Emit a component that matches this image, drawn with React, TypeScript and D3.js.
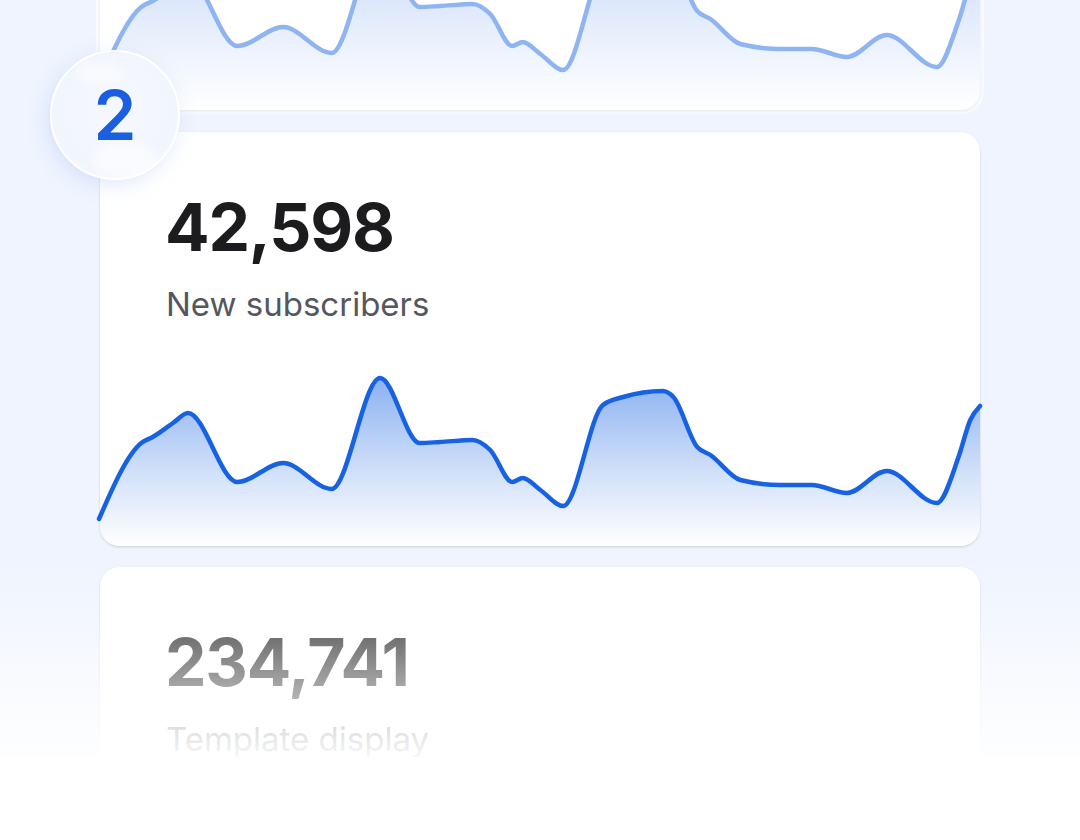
import React from "react";
import * as d3 from "d3";

// ---- data ----
const days = [0, 4.8, 6.1, 8.4, 10.1, 15.7, 20.9, 26.4, 31.9, 36.4, 38.7, 42.4, 44.4, 46.9, 48.1, 50.1, 52.7, 57.2, 59.5, 64.0, 65.2, 67.9, 69.4, 72.8, 77.3, 80.9, 84.9, 89.4, 95.1, 97.6, 98.9, 100];
const subscribers = [27, 103, 109, 123, 133, 64, 83, 57, 168, 103, 104, 106, 96, 64, 68, 56, 40, 141, 149, 155, 149, 99, 91, 66, 61, 61, 53, 75, 43, 90, 126, 140];

const cardValues = ["42,598", "42,598", "234,741"];
const cardLabels = ["New subscribers", "New subscribers", "Template display"];
const badgeLabel = "2";

const W = 1080;
const H = 840;
const cardX = 100;
const cardW = 880;
const cardH = 414;
const cardTops = [-304, 132, 567];
const BLUE = "#1662e3";

const points = days.map((d, i) => ({ d, v: subscribers[i] }));

function Card({ top, idx, showChart, showText, faded }: { top: number; idx: number; showChart: boolean; showText: boolean; faded: boolean }) {
  const x = d3.scaleLinear().domain([0, 100]).range([cardX - 1, cardX + cardW]);
  const y = d3.scaleLinear().domain([0, 200]).range([cardH, cardH - 200]);
  const line = d3
    .line<{ d: number; v: number }>()
    .x((p) => x(p.d))
    .y((p) => y(p.v))
    .curve(d3.curveMonotoneX);
  const area = d3
    .area<{ d: number; v: number }>()
    .x((p) => x(p.d))
    .y0(cardH)
    .y1((p) => y(p.v))
    .curve(d3.curveMonotoneX);
  const clipId = `cardclip${idx}`;
  return (
    <g transform={`translate(0,${top})`}>
      <defs>
        <clipPath id={clipId}>
          <rect x={cardX} y={0} width={cardW} height={cardH} rx={20} ry={20} />
        </clipPath>
      </defs>
      <rect x={cardX} y={0} width={cardW} height={cardH} rx={20} ry={20} fill="#ffffff" filter="url(#cardShadow)" />
      {showChart && (
        <>
          <g clipPath={`url(#${clipId})`}>
            <path d={area(points) || ""} fill="url(#areaGrad)" />
          </g>
          <path d={line(points) || ""} fill="none" stroke={BLUE} strokeWidth={4.5} strokeLinecap="round" strokeLinejoin="round" />
        </>
      )}
      {showText && (
        <>
          <text x={165} y={119} fontFamily="Inter, 'Noto Sans', sans-serif" fontWeight={700} fontSize={66} letterSpacing={-1.2} fill="#1c1c1e">
            {cardValues[idx]}
          </text>
          <text x={166} y={184} fontFamily="Inter, 'Noto Sans', sans-serif" fontWeight={400} fontSize={33} letterSpacing={0} fill="#54575d">
            {cardLabels[idx]}
          </text>
        </>
      )}
      {faded && (
        <rect x={cardX - 4} y={-4} width={cardW + 8} height={cardH + 8} rx={22} fill="#ffffff" opacity={0.52} />
      )}
    </g>
  );
}

export default function App() {
  return (
    <svg width={W} height={H} style={{ position: "absolute", left: 0, top: 0 }} xmlns="http://www.w3.org/2000/svg">
      <defs>
        <linearGradient id="areaGrad" x1="0" y1="246" x2="0" y2="414" gradientUnits="userSpaceOnUse">
          <stop offset="0" stopColor={BLUE} stopOpacity={0.5} />
          <stop offset="0.55" stopColor={BLUE} stopOpacity={0.2} />
          <stop offset="1" stopColor={BLUE} stopOpacity={0.0} />
        </linearGradient>
        <filter id="cardShadow" x="-5%" y="-5%" width="110%" height="110%">
          <feDropShadow dx="0" dy="1.2" stdDeviation="0.9" floodColor="#1a2340" floodOpacity="0.16" />
        </filter>
        <filter id="badgeGlow" x="-60%" y="-60%" width="220%" height="220%">
          <feGaussianBlur stdDeviation="12" />
        </filter>
        <filter id="softBlur" x="-50%" y="-50%" width="200%" height="200%">
          <feGaussianBlur stdDeviation="4" />
        </filter>
        <radialGradient id="badgeFill" cx="0.5" cy="0.45" r="0.6">
          <stop offset="0" stopColor="#f6f8fe" />
          <stop offset="0.8" stopColor="#f1f5fd" />
          <stop offset="1" stopColor="#f7f9ff" />
        </radialGradient>
        <clipPath id="badgeClip">
          <circle cx={115} cy={115} r={63} />
        </clipPath>
        <linearGradient id="fadeGrad" x1="0" y1="560" x2="0" y2="757" gradientUnits="userSpaceOnUse">
          <stop offset="0" stopColor="#ffffff" stopOpacity={0} />
          <stop offset="1" stopColor="#ffffff" stopOpacity={0.95} />
        </linearGradient>
      </defs>
      <rect x={0} y={0} width={W} height={H} fill="#eff4fe" />
      <Card top={cardTops[0]} idx={0} showChart={true} showText={false} faded={true} />
      <Card top={cardTops[1]} idx={1} showChart={true} showText={true} faded={false} />
      <Card top={cardTops[2]} idx={2} showChart={false} showText={true} faded={false} />
      <rect x={0} y={560} width={W} height={197} fill="url(#fadeGrad)" />
      <rect x={0} y={757} width={W} height={H - 757} fill="#ffffff" />
      {/* badge */}
      <g>
        <circle cx={112} cy={120} r={60} fill="#7d9ff0" opacity={0.35} filter="url(#badgeGlow)" />
        <circle cx={115} cy={115} r={64} fill="url(#badgeFill)" stroke="#ffffff" strokeWidth={2} />
        <g clipPath="url(#badgeClip)">
          <ellipse cx={125} cy={160} rx={34} ry={18} fill="#ffffff" opacity={0.55} filter="url(#softBlur)" />
          <ellipse cx={100} cy={74} rx={26} ry={10} fill="#ffffff" opacity={0.5} filter="url(#softBlur)" />
        </g>
        <text x={115} y={140} textAnchor="middle" fontFamily="Inter, 'Noto Sans', sans-serif" fontWeight={600} fontSize={69} fill="#1a5fe0">
          {badgeLabel}
        </text>
      </g>
    </svg>
  );
}
